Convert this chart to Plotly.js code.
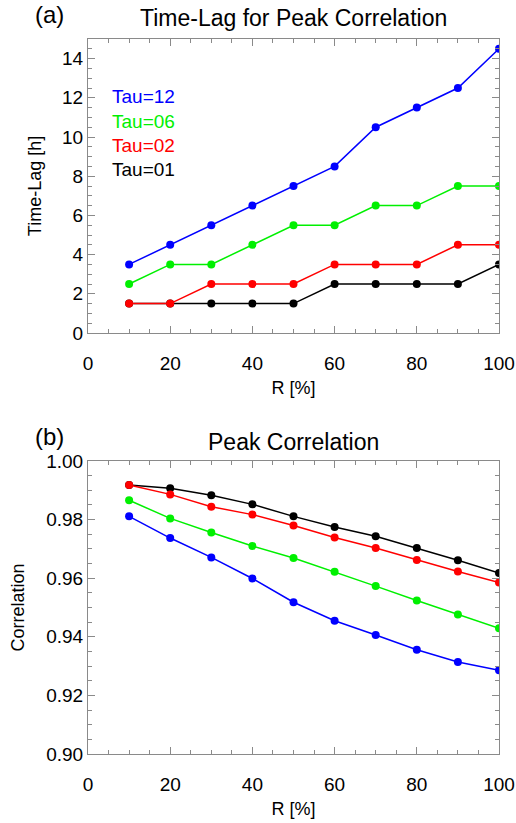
<!DOCTYPE html>
<html>
<head>
<meta charset="utf-8">
<script src="https://cdn.plot.ly/plotly-3.0.1.min.js"></script>
<style>html,body{margin:0;padding:0;background:#fff}#chart{width:516px;height:823px}</style>
</head>
<body>
<div id="chart"></div>
<script>
// ---- data ----
const R = [10, 20, 30, 40, 50, 60, 70, 80, 90, 100];
const seriesNames = ["Tau=01", "Tau=02", "Tau=06", "Tau=12"];
const lag01 = [1.5, 1.5, 1.5, 1.5, 1.5, 2.5, 2.5, 2.5, 2.5, 3.5];
const lag02 = [1.5, 1.5, 2.5, 2.5, 2.5, 3.5, 3.5, 3.5, 4.5, 4.5];
const lag06 = [2.5, 3.5, 3.5, 4.5, 5.5, 5.5, 6.5, 6.5, 7.5, 7.5];
const lag12 = [3.5, 4.5, 5.5, 6.5, 7.5, 8.5, 10.5, 11.5, 12.5, 14.5];
const corr01 = [0.9918, 0.9907, 0.9883, 0.9852, 0.9811, 0.9775, 0.9743, 0.9703, 0.9661, 0.9618];
const corr02 = [0.9918, 0.9886, 0.9844, 0.9817, 0.9780, 0.9739, 0.9703, 0.9662, 0.9623, 0.9585];
const corr06 = [0.9866, 0.9804, 0.9756, 0.9710, 0.9669, 0.9622, 0.9573, 0.9524, 0.9476, 0.9429];
const corr12 = [0.9811, 0.9737, 0.9671, 0.9599, 0.9518, 0.9455, 0.9406, 0.9356, 0.9314, 0.9286];

const colors = ["#000000", "#ff0000", "#00f000", "#0000ff"];
const lagSets = [lag01, lag02, lag06, lag12];
const corrSets = [corr01, corr02, corr06, corr12];

const FONT = "Liberation Sans, Arial, Helvetica, sans-serif";
const traces = [];
lagSets.forEach((ys, i) => traces.push({
  x: R, y: ys, xaxis: "x", yaxis: "y", type: "scatter", mode: "lines+markers",
  name: seriesNames[i], showlegend: false,
  line: {color: colors[i], width: 1.5}, marker: {color: colors[i], size: 8}
}));
corrSets.forEach((ys, i) => traces.push({
  x: R, y: ys, xaxis: "x2", yaxis: "y2", type: "scatter", mode: "lines+markers",
  name: seriesNames[i], showlegend: false,
  line: {color: colors[i], width: 1.5}, marker: {color: colors[i], size: 8}
}));

const axisCommon = {
  showline: true, linecolor: "#8a8a8a", linewidth: 1, mirror: "ticks",
  ticks: "inside", ticklen: 7, tickcolor: "#8a8a8a", tickwidth: 1,
  showgrid: false, zeroline: false,
  tickfont: {family: FONT, size: 19, color: "#000"}
};
function xAxis(anchor) {
  return Object.assign({}, axisCommon, {
    anchor: anchor, range: [0, 100], tickmode: "linear", tick0: 0, dtick: 20,
    ticklabelstandoff: 13,
    minor: {dtick: 5, ticks: "inside", ticklen: 4, tickcolor: "#8a8a8a"},
    title: {text: "R [%]", font: {family: FONT, size: 18, color: "#000"}, standoff: 8}
  });
}

const layout = {
  width: 516, height: 823,
  margin: {l: 88, r: 17, t: 39, b: 69},
  paper_bgcolor: "#fff", plot_bgcolor: "#fff",
  showlegend: false,
  xaxis: xAxis("y"),
  xaxis2: xAxis("y2"),
  yaxis: Object.assign({}, axisCommon, {
    domain: [0.5888, 1], anchor: "x", range: [0, 15],
    tickmode: "linear", tick0: 0, dtick: 2,
    minor: {dtick: 0.5, ticks: "inside", ticklen: 4, tickcolor: "#8a8a8a"},
    title: {text: "Time-Lag [h]", font: {family: FONT, size: 18, color: "#000"}, standoff: 15}
  }),
  yaxis2: Object.assign({}, axisCommon, {
    domain: [0, 0.4098], anchor: "x2", range: [0.9, 1.0],
    tickmode: "linear", tick0: 0.9, dtick: 0.02, tickformat: ".2f",
    minor: {dtick: 0.005, ticks: "inside", ticklen: 4, tickcolor: "#8a8a8a"},
    title: {text: "Correlation", font: {family: FONT, size: 18, color: "#000"}, standoff: 16}
  }),
  annotations: [
    {text: "(a)", xref: "paper", yref: "paper", x: -0.0925, y: 1.0336, xanchor: "center", yanchor: "middle", showarrow: false, font: {family: FONT, size: 24, color: "#000"}},
    {text: "Time-Lag for Peak Correlation", xref: "paper", yref: "paper", x: 0.5, y: 1.0294, xanchor: "center", yanchor: "middle", showarrow: false, font: {family: FONT, size: 23, color: "#000"}},
    {text: "(b)", xref: "paper", yref: "paper", x: -0.0925, y: 0.4434, xanchor: "center", yanchor: "middle", showarrow: false, font: {family: FONT, size: 24, color: "#000"}},
    {text: "Peak Correlation", xref: "paper", yref: "paper", x: 0.5, y: 0.4364, xanchor: "center", yanchor: "middle", showarrow: false, font: {family: FONT, size: 23, color: "#000"}}
  ]
};
const legendY = [0.8168, 0.8508, 0.8853, 0.9193];
seriesNames.forEach((nm, i) => layout.annotations.push({
  text: nm, xref: "paper", yref: "paper", x: 0.0535, y: legendY[i],
  xanchor: "left", yanchor: "middle", showarrow: false,
  font: {family: FONT, size: 19, color: colors[i]}
}));

Plotly.newPlot("chart", traces, layout, {staticPlot: true, displayModeBar: false});
</script>
</body>
</html>
